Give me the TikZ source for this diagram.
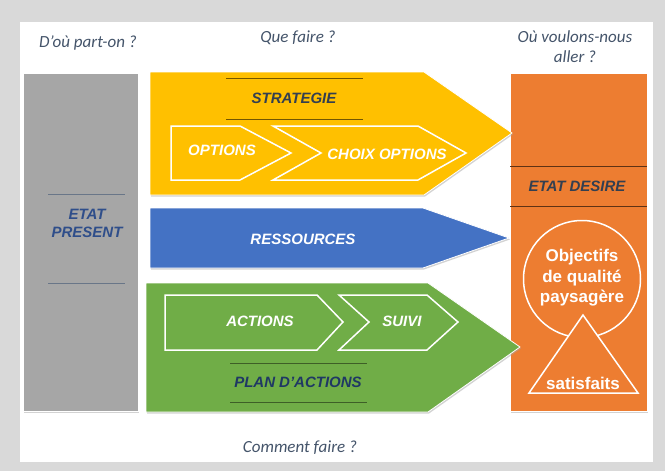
\documentclass[tikz,border=0pt]{standalone}
\usepackage{fontspec}
\setmainfont{Liberation Sans}
\newfontfamily\calib{Carlito}
\usetikzlibrary{shadows}
\definecolor{fond}{HTML}{D9D9D9}
\definecolor{gris}{HTML}{A6A6A6}
\definecolor{jaune}{HTML}{FFC000}
\definecolor{bleu}{HTML}{4472C4}
\definecolor{vert}{HTML}{70AD47}
\definecolor{orange}{HTML}{ED7D31}
\definecolor{ardoise}{HTML}{44546A}
\definecolor{nuit}{HTML}{333F50}
\definecolor{encre}{HTML}{1F3864}
\definecolor{marine}{HTML}{2F4E8A}
\tikzset{%
    fle/.style={draw=white, line width=0.8pt, drop shadow={shadow xshift=1pt, shadow yshift=-1.5pt, fill=black!35, opacity=.5}},
    che/.style={draw=white, line width=1.5pt, line join=miter},
    lab/.style={font=\fontsize{15}{18}\selectfont\bfseries\itshape, text=white, inner sep=0pt},
    tit/.style={font=\calib\fontsize{17}{20}\selectfont\itshape, text=ardoise, align=center, inner sep=0pt},
    sep/.style={line width=1pt},
    obj/.style={font=\fontsize{17}{20.5}\selectfont\bfseries, text=white, align=center, inner sep=0pt},
}

\begin{document}
\begin{tikzpicture}[x=1pt, y=-1pt]
    \useasboundingbox (0,0) rectangle (665,471);
    \fill [fond](0,0) rectangle (665,471);
    \fill [white](20,22) rectangle (653,462);
    % colonnes
    \path [fle, fill=gris](23,73) rectangle (138,411);
    \path [fle, fill=orange](510,73) rectangle (647,411);
    % fleches
    \path [fle, fill=jaune](150,72) -- (424,72) -- (512,133) -- (424,195) -- (150,195) -- cycle;
    \path [fle, fill=bleu](150,208) -- (423,208) -- (509,238) -- (423,268) -- (150,268) -- cycle;
    \path [fle, fill=vert](146,283) -- (428,283) -- (520,347) -- (428,412) -- (146,412) -- cycle;
    % chevrons
    \draw [che, fill=jaune](171,126) -- (240,126) -- (291,153) -- (240,180) -- (171,180) -- cycle;
    \draw [che, fill=jaune](273,126) -- (418,126) -- (466,153) -- (418,180) -- (273,180) -- (321,153) -- cycle;
    \draw [che, fill=vert](165,295) -- (317,295) -- (343,322) -- (317,350) -- (165,350) -- cycle;
    \draw [che, fill=vert](339,295) -- (427,295) -- (458,322) -- (427,350) -- (339,350) -- (369,322) -- cycle;
    % separateurs
    \draw [sep, color=ardoise!80](48,194) -- (125,194) (48,283) -- (125,283);
    \draw [sep, color=black!55!jaune](226,78) -- (363,78) (226,119) -- (363,119);
    \draw [sep, color=black!45!vert](230,363) -- (367,363) (230,402) -- (367,402);
    \draw [sep, color=black!60!orange](510,166) -- (647,166) (510,206) -- (647,206);
    % objectifs
    \draw [che, fill=orange](582,279) circle (58.5);
    \draw [che, fill=orange](583,315) -- (638,393) -- (529,393) -- cycle;
    % textes
    \node [tit](dou) at (88,43) {D’où part-on ?};
    \node [tit](que) at (298,38) {Que faire ?};
    \node [tit](ou) at (575,47) {Où voulons-nous\\aller ?};
    \node [tit](com) at (300,448) {Comment faire ?};
    \node [lab, text=marine, align=center](pre) at (87,223) {ETAT\\PRESENT};
    \node [lab, text=nuit](str) at (294,98) {STRATEGIE};
    \node [lab](opt) at (222,150) {OPTIONS};
    \node [lab](cho) at (387,154) {CHOIX OPTIONS};
    \node [lab](res) at (303,239) {RESSOURCES};
    \node [lab](act) at (260,321) {ACTIONS};
    \node [lab](sui) at (402,321) {SUIVI};
    \node [lab, text=encre](pla) at (298,382) {PLAN D’ACTIONS};
    \node [lab, text=nuit](des) at (577,186) {ETAT DESIRE};
    \node [obj](qua) at (582,278) {Objectifs\\de qualité\\paysagère};
    \node [obj](sat) at (583,383) {satisfaits};
\end{tikzpicture}
\end{document}
